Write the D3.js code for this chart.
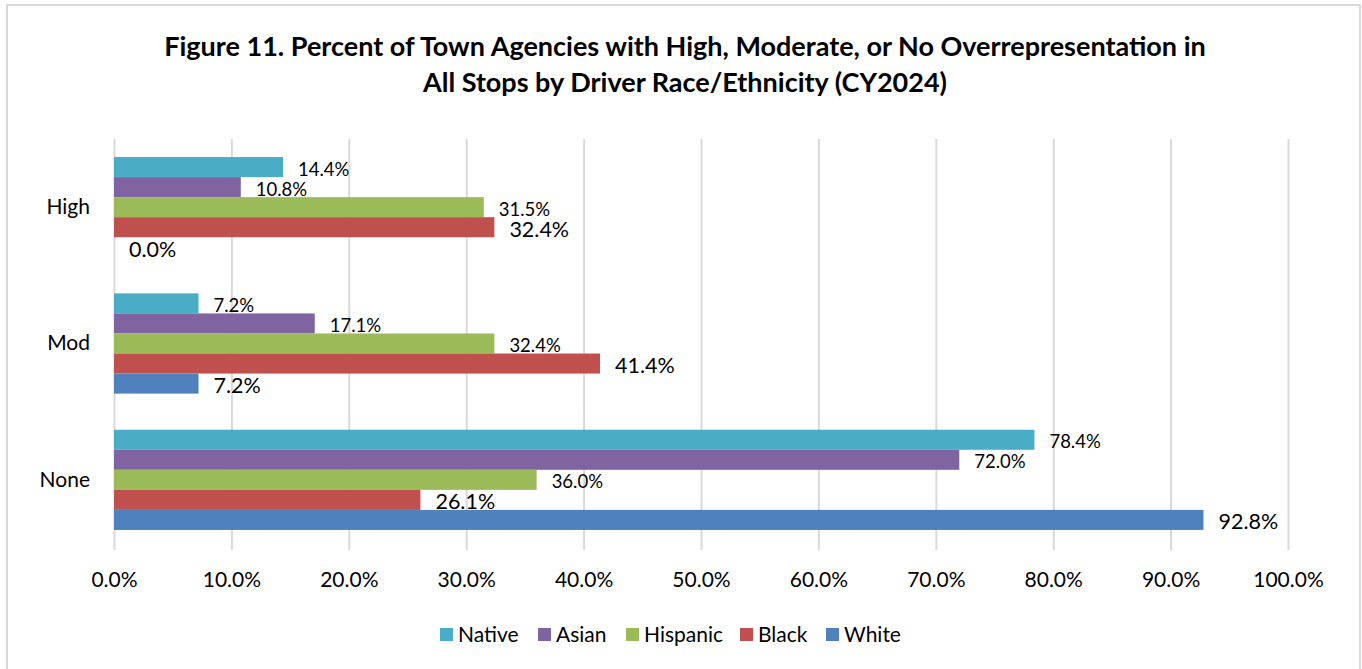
<!DOCTYPE html>
<html><head><meta charset="utf-8">
<script src="https://cdn.jsdelivr.net/npm/d3@7"></script>
<style>body{margin:0;background:#fff;} text{font-family:Lato,"Open Sans",sans-serif;fill:#000;}</style>
</head><body>
<svg id="c" width="1362" height="669"></svg>
<script>
const categories = ["High", "Mod", "None"];
const seriesNames = ["Native", "Asian", "Hispanic", "Black", "White"];
const seriesColors = ["#4bacc6", "#8064a2", "#9bbb59", "#c0504d", "#4f81bd"];
const native   = [14.4, 7.2, 78.4];
const asian    = [10.8, 17.1, 72.0];
const hispanic = [31.5, 32.4, 36.0];
const black    = [32.4, 41.4, 26.1];
const white    = [0.0, 7.2, 92.8];
const seriesValues = [native, asian, hispanic, black, white];
const xTicks = [0, 10, 20, 30, 40, 50, 60, 70, 80, 90, 100];
const titleLines = ["Figure 11. Percent of Town Agencies with High, Moderate, or No Overrepresentation in",
                    "All Stops by Driver Race/Ethnicity (CY2024)"];

(function () {
const svg = d3.select("#c");
svg.append("rect").attr("x", 7).attr("y", 5).attr("width", 1353).attr("height", 680)
  .attr("fill", "#fff").attr("stroke", "#d9d9d9").attr("stroke-width", 2);

svg.selectAll("text.title").data(titleLines).join("text").attr("class", "title")
  .attr("x", 685).attr("y", (d, i) => 56 + i * 36)
  .attr("text-anchor", "middle").attr("font-size", 27).attr("font-weight", "bold").text(d => d);

const pLeft = 114, pRight = 1288, pTop = 139, pBottom = 548;
const x = d3.scaleLinear().domain([0, 100]).range([pLeft, pRight]);
const y = d3.scaleBand().domain(categories).range([pTop, pBottom]).paddingInner(0.265).paddingOuter(0.1325);
const yInner = d3.scaleBand().domain(seriesNames).range([0, y.bandwidth()]);

svg.append("g").selectAll("line").data(xTicks).join("line")
  .attr("x1", d => x(d) + 0.5).attr("x2", d => x(d) + 0.5)
  .attr("y1", pTop).attr("y2", pBottom + 2)
  .attr("stroke", "#d9d9d9").attr("stroke-width", 2);

const xAxis = d3.axisBottom(x).tickValues(xTicks).tickSize(0).tickPadding(0)
  .tickFormat(d => d.toFixed(1) + "%");
const gx = svg.append("g").attr("transform", `translate(0,${pBottom + 24})`).call(xAxis);
gx.select(".domain").remove();
gx.selectAll("text").attr("font-size", 21).attr("dy", "0.71em").style("font-family", "Lato").attr("fill", "#000");

const yAxis = d3.axisLeft(y).tickSize(0).tickPadding(0);
const gy = svg.append("g").attr("transform", `translate(90,0)`).call(yAxis);
gy.select(".domain").remove();
gy.selectAll("text").attr("font-size", 21).style("font-family", "Lato").attr("fill", "#000");

seriesNames.forEach((s, si) => {
  const g = svg.append("g");
  const vals = seriesValues[si];
  g.selectAll("rect").data(vals).join("rect")
    .attr("x", x(0)).attr("y", (d, i) => y(categories[i]) + yInner(s))
    .attr("width", d => x(d) - x(0)).attr("height", yInner.bandwidth())
    .attr("fill", seriesColors[si]);
  const big = si >= 3;
  g.selectAll("text").data(vals).join("text")
    .attr("x", d => x(d) + 15)
    .attr("y", (d, i) => y(categories[i]) + yInner(s) + yInner.bandwidth() / 2 + 2)
    .attr("dy", "0.35em").attr("font-size", big ? 21.5 : 18.5)
    .text(d => d.toFixed(1) + "%");
});

const legX = [440, 538, 626, 740, 826];
const lg = svg.append("g");
seriesNames.forEach((s, i) => {
  lg.append("rect").attr("x", legX[i]).attr("y", 628).attr("width", 13).attr("height", 13).attr("fill", seriesColors[i]);
  lg.append("text").attr("x", legX[i] + 18).attr("y", 635).attr("dy", "0.35em").attr("font-size", 21).text(s);
});
})();
</script>
</body></html>
